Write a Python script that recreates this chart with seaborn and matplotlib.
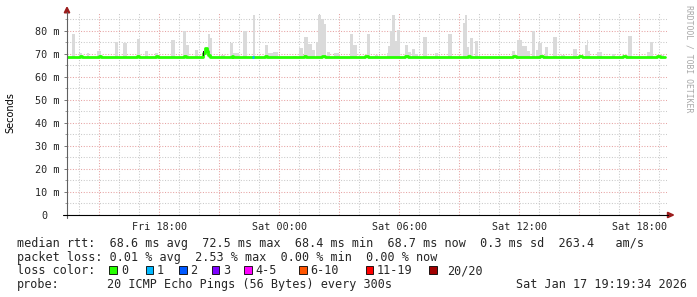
import numpy as np
import pandas as pd
import matplotlib
matplotlib.use("Agg")
import matplotlib.pyplot as plt
from matplotlib.patches import Rectangle, Polygon
import seaborn as sns

# ---------------- data (hours since Fri 00:00, values in ms) ----------------
median_hours = [13.38, 14.05, 14.15, 15.00, 15.10, 16.90, 17.00, 17.85, 17.95, 19.22,
                19.35, 20.20, 20.28, 20.36, 20.45, 20.53, 21.62, 21.70, 22.65, 22.75,
                23.30, 23.40, 25.22, 25.32, 26.15, 26.28, 28.30, 28.42, 30.30, 30.45,
                33.42, 33.55, 35.70, 35.82, 37.05, 37.18, 39.00, 39.12, 41.20, 41.32,
                42.90, 43.02, 43.28]
median_ms = [68.5, 68.9, 68.5, 68.9, 68.5, 68.9, 68.5, 68.9, 68.5, 68.9,
             68.5, 70.3, 72.5, 71.2, 69.5, 68.5, 68.9, 68.5, 68.5, 68.5,
             68.9, 68.5, 68.9, 68.5, 68.9, 68.5, 68.9, 68.5, 68.9, 68.5,
             68.9, 68.5, 68.9, 68.5, 68.9, 68.5, 68.9, 68.5, 68.9, 68.5,
             68.9, 68.7, 68.7]
median_loss = [0] * 18 + [1] + [0] * 24

smoke_start = [13.64, 13.99, 14.40, 14.90, 15.80, 16.20, 16.88, 17.30, 17.78, 18.60,
               19.20, 19.35, 19.80, 20.45, 20.55,
               21.10, 21.53, 21.70, 22.17, 22.67, 23.28, 23.42, 23.70, 24.70, 24.99,
               25.25, 25.42, 25.62, 25.85, 25.95, 26.10, 26.22, 26.37, 26.75, 27.53,
               27.70, 28.37,
               28.80, 29.38, 29.45, 29.55, 29.65, 29.78, 29.90, 30.28, 30.42, 30.62,
               30.78, 31.20, 31.80, 32.42, 33.17, 33.28, 33.40, 33.53, 33.78, 35.62,
               35.87,
               36.15, 36.37, 36.62, 36.85, 36.92, 37.03, 37.28, 37.67, 38.08, 38.67,
               39.28, 39.36, 39.42, 39.87, 40.62, 41.42, 42.37, 42.53, 43.10]
smoke_end = [13.79, 14.15, 14.50, 15.10, 15.92, 16.40, 17.02, 17.42, 17.92, 18.78,
             19.35, 19.50, 19.95, 20.55, 20.65,
             21.30, 21.67, 22.00, 22.37, 22.80, 23.42, 23.70, 23.92, 24.90, 25.16,
             25.42, 25.62, 25.79, 25.95, 26.10, 26.22, 26.35, 26.54, 26.99, 27.70,
             27.87, 28.53,
             28.95, 29.45, 29.55, 29.65, 29.78, 29.90, 30.02, 30.42, 30.60, 30.78,
             30.95, 31.37, 31.95, 32.65, 33.28, 33.40, 33.50, 33.67, 33.92, 35.78,
             36.12,
             36.37, 36.53, 36.78, 36.92, 37.03, 37.12, 37.45, 37.87, 38.28, 38.87,
             39.36, 39.42, 39.55, 40.12, 40.78, 41.62, 42.53, 42.67, 43.25]
smoke_top = [78.8, 70.5, 70.5, 71.4, 75.4, 74.7, 76.5, 71.4, 70.2, 76.0,
             80.0, 74.0, 71.6, 78.5, 77.0,
             69.6, 74.7, 70.2, 80.0, 87.0, 73.9, 70.3, 71.0, 69.3, 72.5,
             77.5, 74.3, 71.7, 75.0, 87.0, 85.0, 83.0, 71.0, 70.5, 78.5,
             73.9, 78.5,
             69.6, 70.3, 73.5, 80.0, 87.0, 75.7, 80.2, 73.9, 70.8, 72.2,
             69.8, 77.3, 70.3, 78.5, 83.3, 87.0, 72.9, 77.0, 75.7, 71.3,
             76.0,
             73.5, 71.4, 80.0, 71.7, 75.4, 74.7, 72.9, 77.5, 69.6, 72.2,
             73.9, 76.0, 71.3, 71.0, 70.0, 78.0, 71.0, 75.0, 69.5]
smoke_floor = 68.4

dark_smoke_start = [20.17, 20.31]
dark_smoke_end = [20.21, 20.35]
dark_smoke_low = [68.9, 70.8]
dark_smoke_high = [71.3, 72.6]

x_tick_hours = [18, 24, 30, 36, 42]
x_tick_labels = ["Fri 18:00", "Sat 00:00", "Sat 06:00", "Sat 12:00", "Sat 18:00"]
y_tick_ms = [0, 10, 20, 30, 40, 50, 60, 70, 80]
y_tick_labels = ["0  ", "10 m", "20 m", "30 m", "40 m", "50 m", "60 m", "70 m", "80 m"]

loss_labels = ["0", "1", "2", "3", "4-5", "6-10", "11-19", "20/20"]
loss_colors = ["#26ff00", "#00b8ff", "#0059ff", "#7e00ff", "#ff00ff", "#ff5500", "#ff0000", "#a10000"]

line_rtt = "median rtt:  68.6 ms avg  72.5 ms max  68.4 ms min  68.7 ms now  0.3 ms sd  263.4   am/s"
line_loss = "packet loss: 0.01 % avg  2.53 % max  0.00 % min  0.00 % now"
line_probe_label = "probe:"
line_probe = "20 ICMP Echo Pings (56 Bytes) every 300s"
line_date = "Sat Jan 17 19:19:34 2026"
y_label = "Seconds"
watermark = "RRDTOOL / TOBI OETIKER"

# ---------------- style ----------------
sns.set_style("white")
plt.rcParams["font.family"] = ["DejaVu Sans"]
MONO = "DejaVu Sans Mono"

W, H = 697, 297
def fp(x, y):
    return (x / W, 1 - y / H)

fig = plt.figure(figsize=(W / 100, H / 100), dpi=100)
fig.patch.set_facecolor("white")
ax = fig.add_axes([67 / W, 1 - 215 / H, 600 / W, 202 / H])
ax.set_facecolor("white")
ax.set_xlim(13.385, 43.385)
ax.set_ylim(0, 87.8)

# grid
major_x = np.arange(15, 43.2, 3)
ax.set_xticks(major_x)
ax.set_xticklabels([x_tick_labels[x_tick_hours.index(int(h))] if int(h) in x_tick_hours else "" for h in major_x],
                   family=MONO, fontsize=7.3)
ax.set_xticks(np.arange(14, 43.5, 1), minor=True)
ax.set_yticks(y_tick_ms)
ax.set_yticklabels(y_tick_labels, family=MONO, fontsize=7.3)
ax.set_yticks(np.arange(5, 87, 10), minor=True)
ax.grid(which="minor", color="#c9c9c9", linestyle=(0, (1, 1.6)), linewidth=0.75, zorder=0)
ax.grid(which="major", color="#e6a3a3", linestyle=(0, (1, 1.6)), linewidth=0.75, zorder=0)
ax.set_axisbelow(True)
ax.tick_params(axis="x", which="major", length=2, color="#e6a3a3", pad=3.3)
ax.tick_params(axis="x", which="minor", length=0)
ax.tick_params(axis="y", which="major", length=2.5, width=0.7, color="#777777", pad=2.6, left=True)
ax.tick_params(axis="y", which="minor", length=1.5, width=0.7, color="#999999", left=True)
for s in ax.spines.values():
    s.set_visible(False)

# smoke
ax.bar(smoke_start, np.array(smoke_top) - smoke_floor,
       width=np.array(smoke_end) - np.array(smoke_start),
       bottom=smoke_floor, align="edge", color="#dadada", linewidth=0, zorder=2)

# median line coloured by loss
df = pd.DataFrame({"hour": median_hours, "ms": median_ms, "loss": median_loss})
sns.lineplot(data=df, x="hour", y="ms", drawstyle="steps-post", color=loss_colors[0],
             linewidth=2.0, ax=ax, zorder=4, estimator=None)
for i in range(len(median_hours) - 1):
    if median_loss[i] > 0:
        ax.plot([median_hours[i], median_hours[i + 1]], [median_ms[i], median_ms[i]],
                color=loss_colors[median_loss[i]], linewidth=2.0, solid_capstyle="butt", zorder=5)
ax.bar(dark_smoke_start, np.array(dark_smoke_high) - np.array(dark_smoke_low),
       width=np.array(dark_smoke_end) - np.array(dark_smoke_start),
       bottom=dark_smoke_low, align="edge", color="#1a1a1a", linewidth=0, zorder=6)
ax.set_xlabel("")
ax.set_ylabel("")

# axis lines + arrows
fig.add_artist(plt.Line2D([67 / W, 67 / W], [1 - 218 / H, 1 - 12 / H], color="#606060", linewidth=0.8))
fig.add_artist(plt.Line2D([63 / W, 668 / W], [1 - 215 / H, 1 - 215 / H], color="black", linewidth=0.8))
fig.add_artist(Polygon([fp(64.3, 12.8), fp(69.7, 12.8), fp(67, 7.3)], closed=True,
                       transform=fig.transFigure, color="#9b1c1c"))
fig.add_artist(Polygon([fp(667.5, 212.3), fp(667.5, 217.7), fp(673.5, 215)], closed=True,
                       transform=fig.transFigure, color="#9b1c1c"))

# labels
fig.text(*fp(10, 113), y_label, rotation=90, ha="center", va="center", fontsize=7, color="black")
fig.text(*fp(688.5, 5), watermark, rotation=270, ha="center", va="top", family=MONO,
         fontsize=5.9, color="#a8a8a8")

fs = 8.5
fig.text(*fp(16.7, 247), line_rtt, family=MONO, fontsize=fs, va="baseline", ha="left")
fig.text(*fp(16.7, 261.3), line_loss, family=MONO, fontsize=fs, va="baseline", ha="left")
fig.text(*fp(16.7, 274), "loss color:", family=MONO, fontsize=fs, va="baseline", ha="left")
sw_x = [109.3, 145.7, 179, 211.7, 244.3, 299.3, 365.7, 429.3]
tx_x = [121.5, 157, 190.5, 223, 255.5, 310.5, 377, 447]
for c, lab, sx, tx in zip(loss_colors, loss_labels, sw_x, tx_x):
    x0, y0 = fp(sx, 273.5)
    fig.add_artist(Rectangle((x0, y0), 7.5 / W, 7.5 / H, transform=fig.transFigure,
                             facecolor=c, edgecolor="black", linewidth=0.6))
    fig.text(*fp(tx, 274), lab, family=MONO, fontsize=fs, va="baseline", ha="left")
fig.text(*fp(16.7, 288), line_probe_label, family=MONO, fontsize=fs, va="baseline", ha="left")
fig.text(*fp(107.3, 288), line_probe, family=MONO, fontsize=fs, va="baseline", ha="left")
fig.text(*fp(687.5, 288), line_date, family=MONO, fontsize=fs, va="baseline", ha="right")

fig.savefig("out.png", dpi=100)
